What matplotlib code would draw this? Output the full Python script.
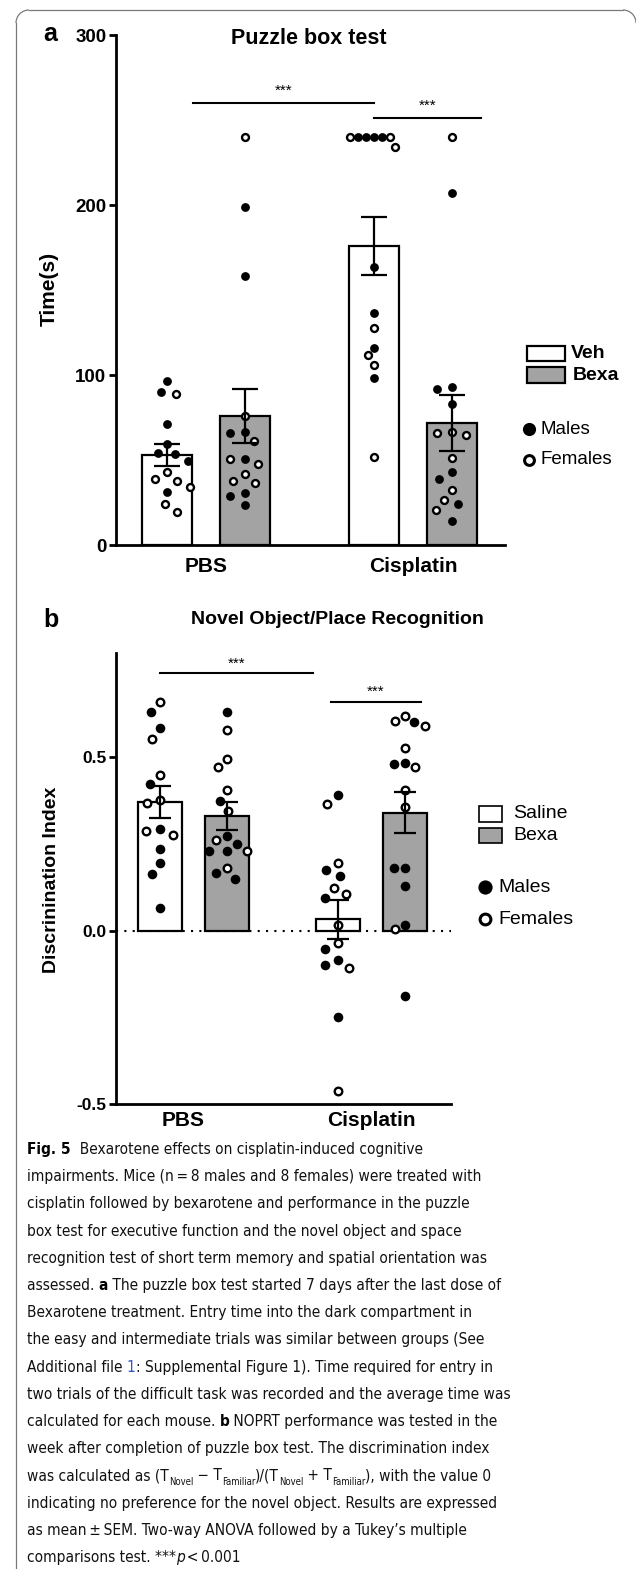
import numpy as np
import matplotlib
matplotlib.use("Agg")
import matplotlib.pyplot as plt
from matplotlib import font_manager
from matplotlib.patches import Rectangle, Arc

# ---------------- data ----------------
groups = ["PBS", "Cisplatin"]

# Panel a: Puzzle box test, time (s)
a_means = [53, 76, 176, 72]          # PBS-Veh, PBS-Bexa, Cis-Veh, Cis-Bexa
a_sems = [6.5, 16, 17, 16.5]
a_pbs_veh_m = [96.5, 90, 71, 59.5, 54, 53.5, 49.5, 31]
a_pbs_veh_f = [89, 43, 39, 37.6, 34, 24, 19.4]
a_pbs_bexa_m = [199, 158, 66.5, 66, 50.6, 30.6, 29, 23.5]
a_pbs_bexa_f = [240, 76, 61, 50.6, 47.6, 41.8, 37.6, 36.5]
a_cis_veh_m = [240, 240, 240, 240, 163.5, 136.5, 116, 98]
a_cis_veh_f = [240, 240, 234, 127.6, 112, 106, 52]
a_cis_bexa_m = [207, 93, 91.5, 83, 43, 39, 24, 14]
a_cis_bexa_f = [240, 66, 65, 66.5, 51, 32.5, 26.5, 20.6]

# Panel b: Novel Object/Place Recognition, discrimination index
b_means = [0.37, 0.33, 0.032, 0.34]   # PBS-Saline, PBS-Bexa, Cis-Saline, Cis-Bexa
b_sems = [0.047, 0.04, 0.055, 0.06]
b_pbs_sal_m = [0.63, 0.583, 0.422, 0.293, 0.236, 0.195, 0.164, 0.066]
b_pbs_sal_f = [0.658, 0.552, 0.448, 0.376, 0.367, 0.286, 0.276]
b_pbs_bexa_m = [0.63, 0.374, 0.273, 0.25, 0.23, 0.23, 0.165, 0.15]
b_pbs_bexa_f = [0.578, 0.494, 0.47, 0.405, 0.345, 0.26, 0.23, 0.18]
b_cis_sal_m = [0.39, 0.175, 0.158, 0.095, -0.052, -0.086, -0.1, -0.25]
b_cis_sal_f = [0.365, 0.195, 0.124, 0.106, 0.017, -0.035, -0.109, -0.463]
b_cis_bexa_m = [0.60, 0.483, 0.48, 0.18, 0.18, 0.127, 0.015, -0.19]
b_cis_bexa_f = [0.618, 0.603, 0.59, 0.525, 0.47, 0.405, 0.357, 0.003]

a_yticks = [0, 100, 200, 300]
b_yticks = [-0.5, 0.0, 0.5]
b_yticklabels = ["-0.5", "0.0", "0.5"]

caption_lines = [
    [("Fig. 5", "bold"), ("  Bexarotene effects on cisplatin-induced cognitive", None)],
    [("impairments. Mice (n\u2009=\u20098 males and 8 females) were treated with", None)],
    [("cisplatin followed by bexarotene and performance in the puzzle", None)],
    [("box test for executive function and the novel object and space", None)],
    [("recognition test of short term memory and spatial orientation was", None)],
    [("assessed. ", None), ("a", "bold"), (" The puzzle box test started 7 days after the last dose of", None)],
    [("Bexarotene treatment. Entry time into the dark compartment in", None)],
    [("the easy and intermediate trials was similar between groups (See", None)],
    [("Additional file ", None), ("1", "blue"), (": Supplemental Figure 1). Time required for entry in", None)],
    [("two trials of the difficult task was recorded and the average time was", None)],
    [("calculated for each mouse. ", None), ("b", "bold"), (" NOPRT performance was tested in the", None)],
    [("week after completion of puzzle box test. The discrimination index", None)],
    [("was calculated as (T", None), ("Novel", "sub"), (" \u2212 T", None), ("Familiar", "sub"),
     (")/(T", None), ("Novel", "sub"), (" + T", None), ("Familiar", "sub"), ("), with the value 0", None)],
    [("indicating no preference for the novel object. Results are expressed", None)],
    [("as mean\u2009\u00b1\u2009SEM. Two-way ANOVA followed by a Tukey\u2019s multiple", None)],
    [("comparisons test. ***", None), ("p", "italic"), ("\u2009<\u20090.001", None)],
]

# ---------------- style ----------------
W, H = 636, 1569
DPI = 100
GRAY = "#a3a3a3"
CF = "Liberation Sans"
plt.rcParams["font.family"] = [CF, "DejaVu Sans"]

names = {f.name for f in font_manager.fontManager.ttflist}
cap_stretch = "normal"
if "Liberation Sans Narrow" in names:
    CAPF = "Liberation Sans Narrow"
elif any(f.name == "DejaVu Sans" and "ondensed" in str(f.fname) for f in font_manager.fontManager.ttflist):
    CAPF = "DejaVu Sans"
    cap_stretch = "condensed"
elif "Lato" in names:
    CAPF = "Lato"
else:
    CAPF = "Open Sans"

fig = plt.figure(figsize=(W / DPI, H / DPI), dpi=DPI)
fig.patch.set_facecolor("white")


def px_axes(left, top, right, bottom):
    return fig.add_axes([left / W, 1 - bottom / H, (right - left) / W, (bottom - top) / H])


def swarm_offsets(ax, xc, vals, Dx, Dy, limit):
    """elliptical beeswarm in display pixels; returns x data coords"""
    disp_y = ax.transData.transform(np.column_stack([np.zeros(len(vals)), vals]))[:, 1]
    order = np.argsort(-np.asarray(vals), kind="stable")
    placed = []
    offs = np.zeros(len(vals))
    for i in order:
        y = disp_y[i]
        cands = [0.0]
        for (px, py) in placed:
            dy = abs(py - y)
            if dy < Dy:
                dx = Dx * np.sqrt(1 - (dy / Dy) ** 2)
                cands += [px + dx, px - dx]
        cands.sort(key=lambda c: (abs(c), c))
        chosen = cands[-1]
        for c in cands:
            if all(((c - px) / Dx) ** 2 + ((y - py) / Dy) ** 2 >= 1 - 1e-6 for px, py in placed):
                chosen = c
                break
        placed.append((chosen, y))
        offs[i] = chosen
    m = np.max(np.abs(offs)) if len(offs) else 0
    if m > limit:
        offs = offs * limit / m
    p0 = ax.transData.transform([[0, 0], [1, 0]])
    ppu = p0[1, 0] - p0[0, 0]
    return xc + offs / ppu


def draw_panel(ax, centers, means, sems, males, females, width, Dx, Dy, limit,
               msize, capsize, colors):
    ax.bar(centers, means, width=width, color=colors, edgecolor="black", linewidth=1.6, zorder=2)
    for xc, m, f in zip(centers, males, females):
        vals = list(m) + list(f)
        sex = [1] * len(m) + [0] * len(f)
        xs = np.asarray(swarm_offsets(ax, xc, vals, Dx, Dy, limit))
        vals = np.asarray(vals)
        sex = np.asarray(sex)
        ax.scatter(xs[sex == 1], vals[sex == 1], s=msize, color="black", zorder=4,
                   linewidths=0, clip_on=False)
        ax.scatter(xs[sex == 0], vals[sex == 0], s=msize * 0.62, facecolor="white",
                   edgecolor="black", linewidths=1.7, zorder=4, clip_on=False)
    ax.errorbar(centers, means, yerr=sems, fmt="none", ecolor="black", elinewidth=1.6,
                capsize=capsize, capthick=1.6, zorder=5)
    for s in ["top", "right"]:
        ax.spines[s].set_visible(False)
    for s in ["left", "bottom"]:
        ax.spines[s].set_linewidth(2.0)
    ax.set_xticks([])
    ax.tick_params(axis="y", length=5, width=2.0, pad=2, labelsize=13.5)


# ---------------- panel a ----------------
axa = px_axes(116, 35, 505, 545)
axa.set_xlim(-0.435, 1.444)
axa.set_ylim(0, 300)
axa.set_yticks(a_yticks)
off_a = 0.187
cent_a = [0 - off_a, 0 + off_a, 1 - off_a, 1 + off_a]
draw_panel(axa, cent_a, a_means, a_sems,
           [a_pbs_veh_m, a_pbs_bexa_m, a_cis_veh_m, a_cis_bexa_m],
           [a_pbs_veh_f, a_pbs_bexa_f, a_cis_veh_f, a_cis_bexa_f],
           0.2415, 15.0, 12.0, 24.0, 40, 9.4, ["white", GRAY, "white", GRAY])
for lab in axa.get_yticklabels():
    lab.set_fontweight("bold")
# significance
axa.plot([-0.063, cent_a[2]], [260, 260], color="black", lw=1.5, clip_on=False, zorder=6)
axa.plot([cent_a[2], 1.329], [251, 251], color="black", lw=1.5, clip_on=False, zorder=6)
axa.text((-0.063 + cent_a[2]) / 2, 263, "***", ha="center", va="bottom", fontsize=11)
axa.text((cent_a[2] + 1.329) / 2, 254, "***", ha="center", va="bottom", fontsize=11)

# ---------------- panel b ----------------
axb = px_axes(116, 653, 451, 1104)
axb.set_xlim(-0.438, 1.449)
axb.set_ylim(-0.5, 0.8)
axb.set_yticks(b_yticks)
axb.set_yticklabels(b_yticklabels)
off_b = 0.189
cent_b = [0 - off_b, 0 + off_b, 1 - off_b, 1 + off_b]
axb.axhline(0, color="black", lw=1.5, ls=(0, (1, 3)), zorder=1)
draw_panel(axb, cent_b, b_means, b_sems,
           [b_pbs_sal_m, b_pbs_bexa_m, b_cis_sal_m, b_cis_bexa_m],
           [b_pbs_sal_f, b_pbs_bexa_f, b_cis_sal_f, b_cis_bexa_f],
           0.248, 14.0, 13.0, 20.0, 48, 7.7, ["white", GRAY, "white", GRAY])
axb.tick_params(axis="y", labelsize=12.5)
for lab in axb.get_yticklabels():
    lab.set_fontweight("bold")
axb.plot([cent_b[0], 0.673], [0.741, 0.741], color="black", lw=1.5, clip_on=False, zorder=6)
axb.plot([0.773, 1.28], [0.658, 0.658], color="black", lw=1.5, clip_on=False, zorder=6)
axb.text((cent_b[0] + 0.673) / 2, 0.75, "***", ha="center", va="bottom", fontsize=11)
axb.text((0.773 + 1.28) / 2, 0.667, "***", ha="center", va="bottom", fontsize=11)

# ---------------- overlay (pixel coords) ----------------
ov = fig.add_axes([0, 0, 1, 1], zorder=-1)
ov.set_xlim(0, W)
ov.set_ylim(H, 0)
ov.axis("off")
FR, FC, FW = 13, "#7a7a7a", 0.9
ov.plot([16, 16], [10 + FR, H + 5], color=FC, lw=FW, clip_on=False)
ov.plot([16 + FR, 636 - FR], [10, 10], color=FC, lw=FW, clip_on=False)
ov.add_patch(Arc((16 + FR, 10 + FR), 2 * FR, 2 * FR, theta1=180, theta2=270,
                 color=FC, lw=FW))
ov.add_patch(Arc((636 - FR, 10 + FR), 2 * FR, 2 * FR, theta1=270, theta2=360,
                 color=FC, lw=FW))

ov2 = fig.add_axes([0, 0, 1, 1], zorder=10)
ov2.set_xlim(0, W)
ov2.set_ylim(H, 0)
ov2.axis("off")
ov2.patch.set_alpha(0)

# panel a texts
ov2.text(50, 34, "a", fontsize=18, fontweight="bold", ha="center", va="center")
ov2.text(309, 38, "Puzzle box test", fontsize=15.5, fontweight="bold", ha="center", va="center")
ov2.text(49, 289, "Time(s)", fontsize=15, fontweight="bold", ha="center", va="center", rotation=90)
ov2.text(206, 566, groups[0], fontsize=15, fontweight="bold", ha="center", va="center")
ov2.text(413, 566, groups[1], fontsize=15, fontweight="bold", ha="center", va="center")
ov2.add_patch(Rectangle((527, 346), 38, 15, facecolor="white", edgecolor="black", lw=1.6))
ov2.add_patch(Rectangle((527, 367), 38, 16, facecolor=GRAY, edgecolor="black", lw=1.6))
ov2.text(571, 353, "Veh", fontsize=14, fontweight="bold", va="center")
ov2.text(573, 375, "Bexa", fontsize=14, fontweight="bold", va="center")
ov2.scatter([529], [429], s=90, color="black", linewidths=0)
ov2.scatter([529], [460], s=50, facecolor="white", edgecolor="black", linewidths=2.2)
ov2.text(541, 429, "Males", fontsize=13.5, va="center")
ov2.text(541, 460, "Females", fontsize=13.5, va="center")

# panel b texts
ov2.text(51, 620, "b", fontsize=18, fontweight="bold", ha="center", va="center")
ov2.text(337, 620, "Novel Object/Place Recognition", fontsize=14, fontweight="bold",
         ha="center", va="center")
ov2.text(52, 880, "Discrinination Index", fontsize=14, fontweight="bold", ha="center",
         va="center", rotation=90)
ov2.text(183, 1121, groups[0], fontsize=15, fontweight="bold", ha="center", va="center")
ov2.text(371, 1121, groups[1], fontsize=15, fontweight="bold", ha="center", va="center")
ov2.add_patch(Rectangle((479, 806), 23, 16, facecolor="white", edgecolor="black", lw=1.2))
ov2.add_patch(Rectangle((479, 828), 23, 15, facecolor=GRAY, edgecolor="black", lw=1.2))
ov2.text(513, 814, "Saline", fontsize=14, va="center")
ov2.text(513, 836, "Bexa", fontsize=14, va="center")
ov2.scatter([485], [887], s=105, color="black", linewidths=0)
ov2.scatter([485], [919], s=60, facecolor="white", edgecolor="black", linewidths=2.2)
ov2.text(498, 887, "Males", fontsize=14, va="center")
ov2.text(498, 919, "Females", fontsize=14, va="center")

# ---------------- caption ----------------
renderer = fig.canvas.get_renderer()


def seg_props(kind, size):
    p = dict(fontsize=size, family=[CAPF, "DejaVu Sans"], fontstretch=cap_stretch,
             color="#111111")
    dy = 0
    if kind == "bold":
        p["fontweight"] = "bold"
        p["color"] = "black"
    elif kind == "blue":
        p["color"] = "#3355cc"
    elif kind == "italic":
        p["fontstyle"] = "italic"
    elif kind == "sub":
        p["fontsize"] = size * 0.62
        dy = size * 0.32
    return p, dy


def text_w(s, props):
    t = ov2.text(0, 0, s, **props)
    w = t.get_window_extent(renderer).width
    t.remove()
    return w


def seg_w(s, props):
    return text_w("x" + s + "x", props) - text_w("xx", props)


# fit caption size to a reference line width
ref_line = caption_lines[4][0][0]
p10, _ = seg_props(None, 10)
cap_size = 10 * 460.0 / seg_w(ref_line, p10)

x0, y0, lh = 27, 1154, 27.2
for i, line in enumerate(caption_lines):
    x = x0
    y = y0 + i * lh
    for s, kind in line:
        props, dy = seg_props(kind, cap_size)
        ov2.text(x, y + dy * DPI / 72.0, s, va="baseline", ha="left", **props)
        x += seg_w(s, props)

fig.savefig("out.png", dpi=DPI, facecolor="white")
